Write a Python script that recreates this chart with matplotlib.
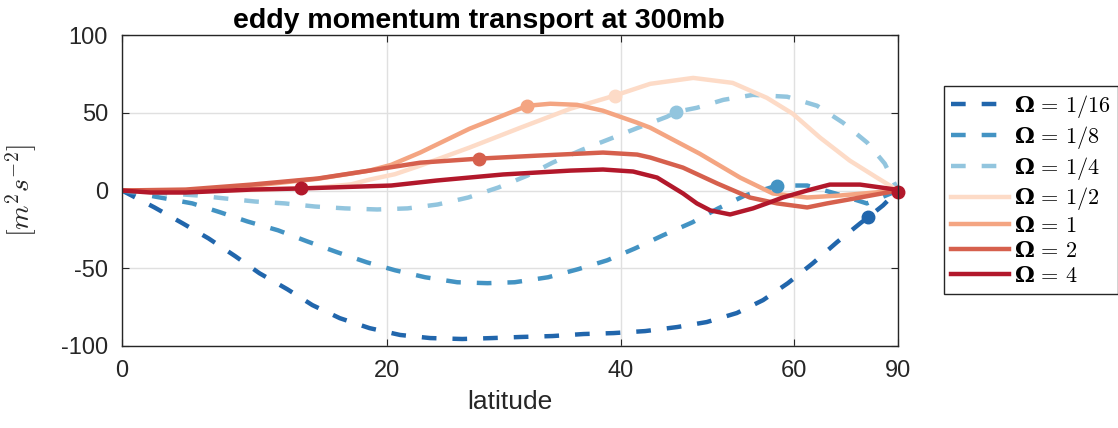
import numpy as np
import matplotlib
matplotlib.use('Agg')
import matplotlib.pyplot as plt

plt.rcParams['font.family'] = ['Liberation Sans', 'DejaVu Sans']
plt.rcParams['mathtext.fontset'] = 'custom'
plt.rcParams['mathtext.rm'] = 'cmr10'
plt.rcParams['mathtext.it'] = 'cmmi10'
plt.rcParams['mathtext.bf'] = 'DejaVu Serif:bold'
plt.rcParams['mathtext.fallback'] = 'cm'
plt.rcParams['axes.unicode_minus'] = False

# latitude (deg) vs eddy momentum transport (m^2 s^-2)
lat_16 = [0, 2.4, 4.5, 6.4, 8.4, 10.2, 12.3, 14.2, 16.3, 18.6, 21.0, 23.4, 26.0, 28.5, 30.9,
          33.7, 36.5, 39.3, 42.4, 45.7, 48.9, 52.4, 55.7, 59.1, 62.9, 67.1, 72.0, 74.0, 78.7, 90]
val_16 = [0, -10.9, -21.2, -30.8, -42.3, -53.2, -63.5, -73.7, -82.1, -88.5, -92.9, -94.9, -95.5, -94.9, -94.2,
          -93.6, -92.3, -91.7, -90.4, -87.8, -84.6, -78.8, -70.5, -59.6, -46.8, -33.3, -21.2, -17.3, -9.6, 0]

lat_8 = [0, 2.8, 5.2, 7.3, 9.3, 11.6, 13.8, 16.1, 18.4, 20.6, 23.0, 25.6, 28.1, 30.4, 33.3, 36.0,
         38.7, 41.4, 44.2, 47.3, 50.2, 53.4, 57.6, 62.0, 66.8, 73.7, 90]
val_8 = [0, -4.5, -8.3, -14.1, -19.9, -25.6, -32.7, -39.7, -46.2, -51.3, -55.8, -59.0, -59.6, -59.0, -55.8, -50.6,
         -44.9, -37.2, -28.8, -20.5, -11.5, -3.2, 3.2, 3.2, -1.9, -8.3, 0]

lat_4 = [0, 5.6, 7.6, 9.9, 12.1, 14.4, 16.7, 19.2, 21.6, 24.0, 26.5, 29.0, 31.5, 33.7, 36.4, 39.0,
         41.7, 44.6, 45.6, 47.8, 50.8, 54.4, 59.0, 63.6, 68.3, 73.8, 79.4, 90]
val_4 = [0, -3.2, -5.1, -7.1, -8.3, -10.3, -11.5, -12.2, -11.5, -9.0, -4.5, 1.9, 9.6, 17.9, 26.3, 33.3,
         40.4, 47.4, 50.6, 53.2, 58.3, 61.5, 60.3, 54.5, 43.6, 30.8, 17.3, 0]

lat_2 = [0, 5.8, 10.2, 14.8, 17.2, 18.6, 20.6, 22.6, 26.6, 30.9, 35.3, 39.4, 42.9, 47.4, 51.9,
         56.2, 59.8, 64.1, 69.7, 76.6, 90]
val_2 = [0, -0.5, 0.5, 2.0, 4.0, 7.0, 10.5, 16.0, 27.6, 40.4, 52.6, 61.0, 68.6, 72.4, 69.2,
         59.6, 49.4, 34.0, 19.2, 8.3, 0]

lat_1 = [0, 4.7, 9.6, 14.6, 18.6, 20.3, 22.6, 26.6, 31.5, 33.5, 35.9, 38.3, 41.6, 42.9, 48.1,
         52.8, 57.0, 62.0, 67.7, 90]
val_1 = [0, -0.6, 3.0, 7.5, 12.8, 16.5, 24.4, 39.7, 54.5, 55.8, 55.1, 51.3, 43.6, 40.4, 23.7,
         8.3, -1.9, -4.5, -3.2, 0]

lat_x2 = [0, 4.7, 9.6, 14.6, 18.6, 22.6, 27.4, 32.3, 38.3, 41.6, 42.9, 46.3, 50.1, 54.0, 57.6,
          62.0, 65.3, 72.0, 90]
val_x2 = [0, 0.6, 3.8, 7.7, 12.8, 17.9, 20.5, 22.4, 24.4, 23.1, 21.2, 14.7, 4.5, -4.5, -8.3,
          -10.9, -8.3, -4.5, 0]

lat_x4 = [0, 2.1, 4.7, 9.6, 13.3, 20.3, 23.9, 29.4, 35.3, 38.3, 41.2, 43.6, 46.3, 47.8, 49.3,
          51.6, 54.4, 56.2, 58.4, 62.0, 65.8, 72.0, 87.1, 90]
val_x4 = [0, -1.3, -1.3, 0.6, 1.3, 3.2, 6.4, 10.3, 12.8, 13.5, 12.2, 8.3, -1.9, -8.3, -12.8,
          -15.4, -11.5, -8.3, -4.5, 0, 3.8, 3.8, 0.5, -1.0]

# dots on each curve
dot_lat = [[74.0], [57.6], [45.6], [39.4], [31.5], [27.4], [13.3, 90]]
dot_val = [[-17.3], [3.2], [50.6], [61.0], [54.5], [20.5], [1.3, -1.0]]

lats = [lat_16, lat_8, lat_4, lat_2, lat_1, lat_x2, lat_x4]
vals = [val_16, val_8, val_4, val_2, val_1, val_x2, val_x4]
omegas = ['1/16', '1/8', '1/4', '1/2', '1', '2', '4']
labels = [r'$\mathbf{\Omega}\,=\,' + w + '$' for w in omegas]
colors = ['#2166ac', '#4393c3', '#92c5de', '#fddbc7', '#f4a582', '#d6604d', '#b2182b']
dashed = [True, True, True, False, False, False, False]

xticks = [0, 20, 40, 60, 90]
yticks = [-100, -50, 0, 50, 100]


def fwd(x):
    return np.sin(np.deg2rad(x))


def inv(y):
    return np.rad2deg(np.arcsin(np.clip(y, -1, 1)))


fig = plt.figure(figsize=(11.18, 4.28), dpi=100)
ax = fig.add_axes([122 / 1118, 1 - 346 / 428, 776 / 1118, 311 / 428])
ax.set_xscale('function', functions=(fwd, inv))

for lat, val, lab, c, d in zip(lats, vals, labels, colors, dashed):
    ln, = ax.plot(lat, val, color=c, lw=3.2, label=lab)
    if d:
        ln.set_dashes([3.3, 3.6])
for ml, mv, c in zip(dot_lat, dot_val, colors):
    ax.plot(ml, mv, 'o', color=c, ms=9, clip_on=False)

ax.set_xlim(0, 90)
ax.set_ylim(-100, 100)
ax.set_xticks(xticks)
ax.set_xticklabels([str(t) for t in xticks])
ax.set_yticks(yticks)
ax.minorticks_off()
ax.set_axisbelow(True)
ax.grid(True, color='#e0e0e0', lw=1)
ax.tick_params(direction='in', length=5, top=True, right=True, labelsize=17,
               pad=10, color='#262626', labelcolor='#262626')
for sp in ax.spines.values():
    sp.set_color('#262626')
    sp.set_linewidth(1)

ax.set_title('eddy momentum transport at 300mb', fontsize=20.5, fontweight='bold', pad=5)
ax.title.set_x(0.46)
ax.set_xlabel('latitude', fontsize=19, color='#262626', labelpad=6)
ax.set_ylabel(r'$[m^2s^{-2}]$', fontsize=20, color='#262626', labelpad=16)

leg = ax.legend(loc='upper left', bbox_to_anchor=(944 / 1118, 1 - 86 / 428),
                bbox_transform=fig.transFigure, borderaxespad=0, fontsize=16,
                handlelength=2.6, handletextpad=0.25, labelspacing=0.17, borderpad=0.32,
                fancybox=False, framealpha=1, edgecolor='#262626')
leg.get_frame().set_linewidth(1)

fig.savefig('out.png', dpi=100)
